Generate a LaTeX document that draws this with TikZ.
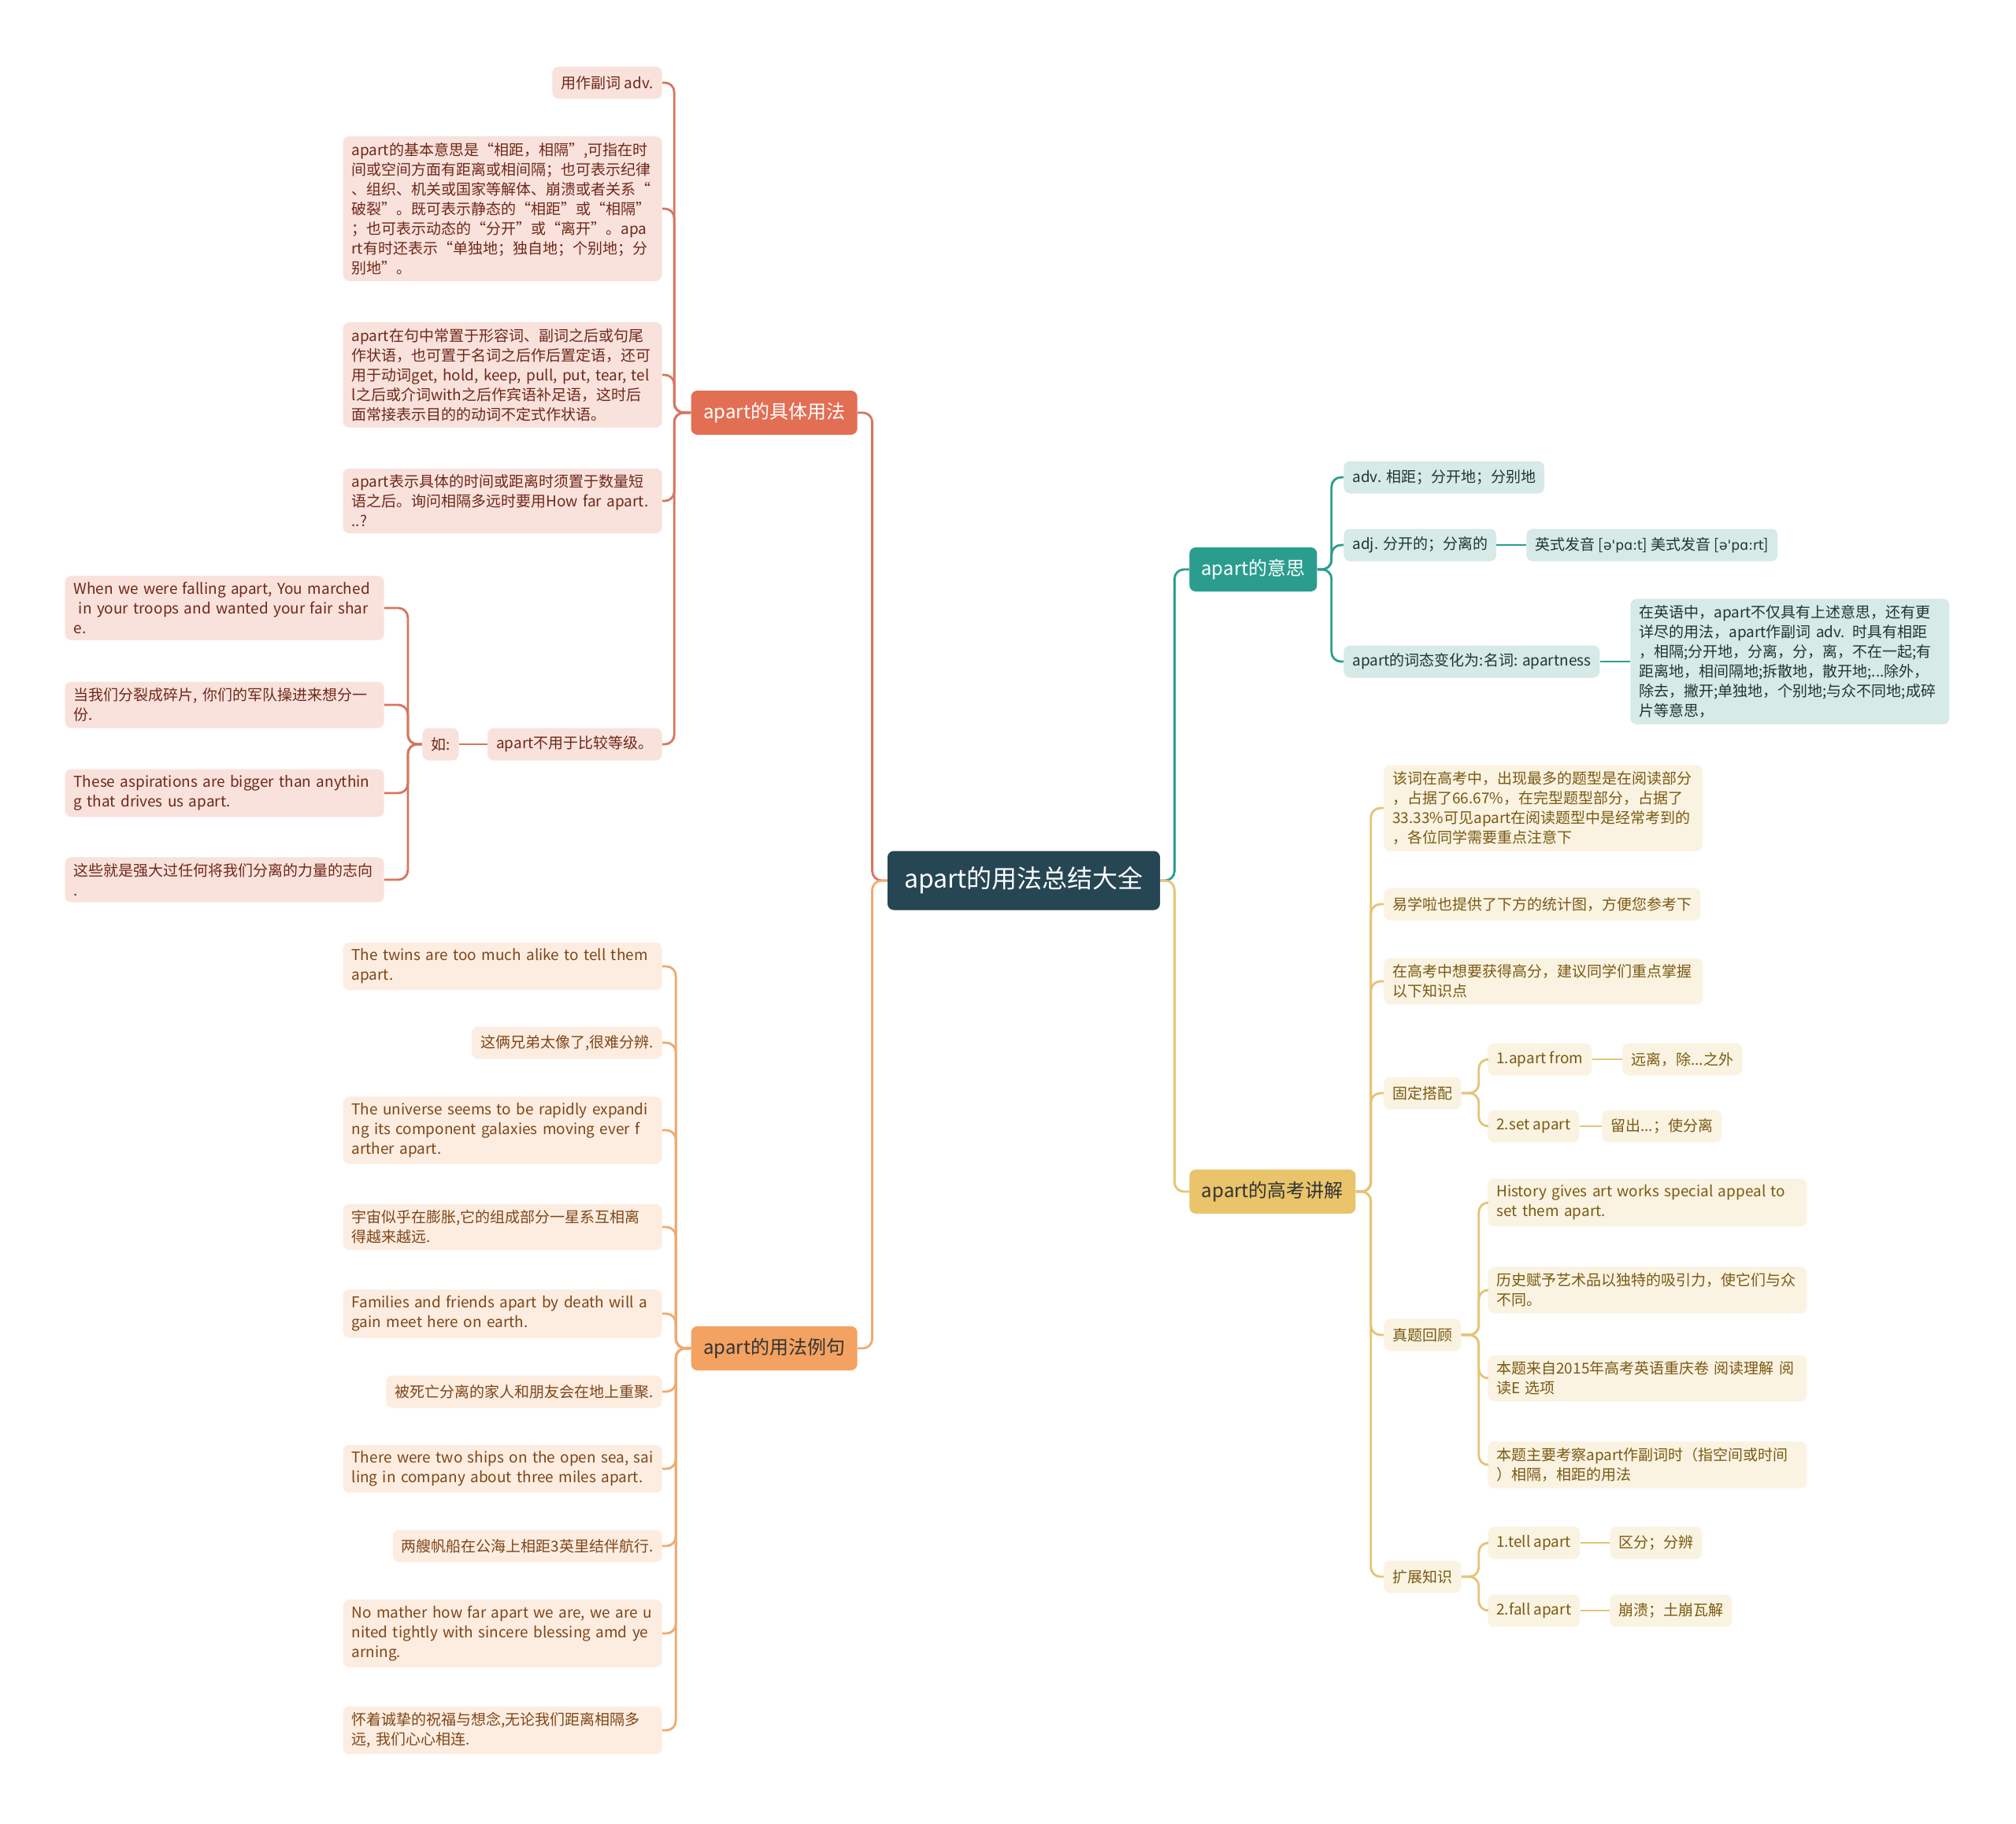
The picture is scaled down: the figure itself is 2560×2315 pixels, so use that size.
\documentclass[tikz,border=0pt]{standalone}
\usepackage{fontspec}
\setmainfont{Noto Sans CJK SC}
\newfontfamily\ipafont{DejaVu Sans}
\usepackage{xcolor}
\usepackage{tikz}
\usetikzlibrary{positioning}
\definecolor{rootc}{RGB}{38,70,83}
\definecolor{coralc}{RGB}{226,110,84}
\definecolor{coralln}{RGB}{214,118,94}
\definecolor{corallt}{RGB}{249,226,220}
\definecolor{coraltx}{RGB}{110,40,25}
\definecolor{orngc}{RGB}{244,162,97}
\definecolor{orngln}{RGB}{240,170,110}
\definecolor{ornglt}{RGB}{253,237,224}
\definecolor{orngtx}{RGB}{125,70,25}
\definecolor{tealc}{RGB}{42,157,143}
\definecolor{teallt}{RGB}{214,234,231}
\definecolor{tealtx}{RGB}{30,55,50}
\definecolor{yellc}{RGB}{233,196,106}
\definecolor{yellln}{RGB}{228,196,118}
\definecolor{yelllt}{RGB}{251,243,225}
\definecolor{yelltx}{RGB}{120,90,20}
\newcommand{\ipa}[1]{{\ipafont\fontsize{8.6}{12.5}\selectfont #1}}

\tikzset{
  base/.style={rounded corners=4pt, inner xsep=5.5pt, inner ysep=4pt,
    minimum height=20.5pt, font=\fontsize{9.5}{12.5}\selectfont},
  para/.style={text width=191.5pt, align=left},
  rootbox/.style={fill=rootc, text=white, rounded corners=4pt,
    minimum width=173pt, minimum height=37.5pt, font=\fontsize{16}{20}\selectfont},
  branchbox/.style={rounded corners=4pt, inner xsep=6pt, minimum height=28pt,
    font=\fontsize{12}{15}\selectfont},
  pinkbox/.style={base, fill=corallt, text=coraltx},
  peachbox/.style={base, fill=ornglt, text=orngtx},
  mintbox/.style={base, fill=teallt, text=tealtx},
  creambox/.style={base, fill=yelllt, text=yelltx},
  coralwire/.style={draw=coralln, line width=1.4pt, rounded corners=6pt},
  orngwire/.style={draw=orngln, line width=1.4pt, rounded corners=6pt},
  tealwire/.style={draw=tealc, line width=1.4pt, rounded corners=6pt},
  yellwire/.style={draw=yellln, line width=1.4pt, rounded corners=6pt}
}

\begin{document}
\begin{tikzpicture}[x=0.5pt, y=-0.5pt]
\fill[white] (0,0) rectangle (2560,2315);
\useasboundingbox (0,0) rectangle (2560,2315);

% root and main branches
\node[rootbox] (root) at (1300,1118) {apart的用法总结大全};
\node[branchbox, fill=coralc, text=white, anchor=east, minimum width=105.5pt] (jt) at (1089,524) {apart的具体用法};
\node[branchbox, fill=orngc, text=black!80, anchor=east, minimum width=105.5pt] (lj) at (1089,1712) {apart的用法例句};
\node[branchbox, fill=tealc, text=white, anchor=west, minimum width=81pt] (ys) at (1510,723) {apart的意思};
\node[branchbox, fill=yellc, text=black!80, anchor=west, minimum width=105.5pt] (gk) at (1510,1513) {apart的高考讲解};

% apart的具体用法
\node[pinkbox, anchor=east] (u1) at (841,105) {用作副词 adv.};
\node[pinkbox, para, anchor=east] (u2) at (841,265) {apart的基本意思是“相距，相隔”,可指在时\\间或空间方面有距离或相间隔；也可表示纪律\\、组织、机关或国家等解体、崩溃或者关系“\\破裂”。既可表示静态的“相距”或“相隔”\\；也可表示动态的“分开”或“离开”。apa\\rt有时还表示“单独地；独自地；个别地；分\\别地”。};
\node[pinkbox, para, anchor=east] (u3) at (841,476) {apart在句中常置于形容词、副词之后或句尾\\作状语，也可置于名词之后作后置定语，还可\\用于动词get, hold, keep, pull, put, tear, tel\\l之后或介词with之后作宾语补足语，这时后\\面常接表示目的的动词不定式作状语。};
\node[pinkbox, para, anchor=east] (u4) at (841,636) {apart表示具体的时间或距离时须置于数量短\\语之后。询问相隔多远时要用How far apart.\\..?};
\node[pinkbox, anchor=east] (u5) at (841,945) {apart不用于比较等级。};
\node[pinkbox, anchor=east] (ru) at (583,945) {如:};
\node[pinkbox, para, anchor=east] (e1) at (488,772) {When we were falling apart, You marched\\\ in your troops and wanted your fair shar\\e.};
\node[pinkbox, para, anchor=east] (e2) at (488,895) {当我们分裂成碎片, 你们的军队操进来想分一\\份.};
\node[pinkbox, para, anchor=east] (e3) at (488,1007) {These aspirations are bigger than anythin\\g that drives us apart.};
\node[pinkbox, para, anchor=east] (e4) at (488,1117) {这些就是强大过任何将我们分离的力量的志向\\.};

% apart的用法例句
\node[peachbox, para, anchor=east] (s1) at (841,1227) {The twins are too much alike to tell them\\apart.};
\node[peachbox, anchor=east] (s2) at (841,1324) {这俩兄弟太像了,很难分辨.};
\node[peachbox, para, anchor=east] (s3) at (841,1435) {The universe seems to be rapidly expandi\\ng its component galaxies moving ever f\\arther apart.};
\node[peachbox, para, anchor=east] (s4) at (841,1558) {宇宙似乎在膨胀,它的组成部分一星系互相离\\得越来越远.};
\node[peachbox, para, anchor=east] (s5) at (841,1668) {Families and friends apart by death will a\\gain meet here on earth.};
\node[peachbox, anchor=east] (s6) at (841,1767) {被死亡分离的家人和朋友会在地上重聚.};
\node[peachbox, para, anchor=east] (s7) at (841,1865) {There were two ships on the open sea, sai\\ling in company about three miles apart.};
\node[peachbox, anchor=east] (s8) at (841,1963) {两艘帆船在公海上相距3英里结伴航行.};
\node[peachbox, para, anchor=east] (s9) at (841,2074) {No mather how far apart we are, we are u\\nited tightly with sincere blessing amd ye\\arning.};
\node[peachbox, para, anchor=east] (s10) at (841,2197) {怀着诚挚的祝福与想念,无论我们距离相隔多\\远, 我们心心相连.};

% apart的意思
\node[mintbox, anchor=west] (m1) at (1706,606) {adv. 相距；分开地；分别地};
\node[mintbox, anchor=west] (m2) at (1706,692) {adj. 分开的；分离的};
\node[mintbox, anchor=west] (m2b) at (1938,692) {英式发音 [\ipa{ə\char"27 pɑ:t}] 美式发音 [\ipa{ə\char"27 pɑ:rt}]};
\node[mintbox, anchor=west] (m3) at (1706,840) {apart的词态变化为:名词: apartness};
\node[mintbox, para, anchor=west] (m3b) at (2070,840) {在英语中，apart不仅具有上述意思，还有更\\详尽的用法，apart作副词 adv. 时具有相距\\，相隔;分开地，分离，分，离，不在一起;有\\距离地，相间隔地;拆散地，散开地;...除外，\\除去，撇开;单独地，个别地;与众不同地;成碎\\片等意思，};

% apart的高考讲解
\node[creambox, para, anchor=west] (g1) at (1757,1026) {该词在高考中，出现最多的题型是在阅读部分\\，占据了66.67\%，在完型题型部分，占据了\\33.33\%可见apart在阅读题型中是经常考到的\\，各位同学需要重点注意下};
\node[creambox, anchor=west] (g2) at (1757,1148) {易学啦也提供了下方的统计图，方便您参考下};
\node[creambox, para, anchor=west] (g3) at (1757,1246) {在高考中想要获得高分，建议同学们重点掌握\\以下知识点};
\node[creambox, anchor=west] (g4) at (1757,1388) {固定搭配};
\node[creambox, anchor=west] (g5) at (1757,1695) {真题回顾};
\node[creambox, anchor=west] (g6) at (1757,2002) {扩展知识};
\node[creambox, anchor=west] (f1) at (1889,1345) {1.apart from};
\node[creambox, anchor=west] (f1b) at (2060,1345) {远离，除...之外};
\node[creambox, anchor=west] (f2) at (1889,1430) {2.set apart};
\node[creambox, anchor=west] (f2b) at (2034,1430) {留出...；使分离};
\node[creambox, para, anchor=west] (z1) at (1889,1527) {History gives art works special appeal to\\set them apart.};
\node[creambox, para, anchor=west] (z2) at (1889,1638) {历史赋予艺术品以独特的吸引力，使它们与众\\不同。};
\node[creambox, para, anchor=west] (z3) at (1889,1750) {本题来自2015年高考英语重庆卷 阅读理解 阅\\读E 选项};
\node[creambox, para, anchor=west] (z4) at (1889,1860) {本题主要考察apart作副词时（指空间或时间\\）相隔，相距的用法};
\node[creambox, anchor=west] (k1) at (1889,1959) {1.tell apart};
\node[creambox, anchor=west] (k1b) at (2044,1959) {区分；分辨};
\node[creambox, anchor=west] (k2) at (1889,2045) {2.fall apart};
\node[creambox, anchor=west] (k2b) at (2044,2045) {崩溃；土崩瓦解};

% connectors
\draw[coralwire] (root.west) -- ++(-19,0) |- (jt.east);
\draw[orngwire] (root.west) -- ++(-19,0) |- (lj.east);
\draw[tealwire] (root.east) -- ++(18,0) |- (ys.west);
\draw[yellwire] (root.east) -- ++(18,0) |- (gk.west);
\foreach \c in {u1,u2,u3,u4,u5}
  \draw[coralwire] (jt.west) -- ++(-21,0) |- (\c.east);
\draw[coralwire] (u5.west) -- (ru.east);
\foreach \c in {e1,e2,e3,e4}
  \draw[coralwire] (ru.west) -- ++(-18,0) |- (\c.east);
\foreach \c in {s1,s2,s3,s4,s5,s6,s7,s8,s9,s10}
  \draw[orngwire] (lj.west) -- ++(-19,0) |- (\c.east);
\foreach \c in {m1,m2,m3}
  \draw[tealwire] (ys.east) -- ++(18,0) |- (\c.west);
\draw[tealwire] (m2.east) -- (m2b.west);
\draw[tealwire] (m3.east) -- (m3b.west);
\foreach \c in {g1,g2,g3,g4,g5,g6}
  \draw[yellwire] (gk.east) -- ++(19,0) |- (\c.west);
\foreach \c in {f1,f2}
  \draw[yellwire] (g4.east) -- ++(22,0) |- (\c.west);
\foreach \c in {z1,z2,z3,z4}
  \draw[yellwire] (g5.east) -- ++(22,0) |- (\c.west);
\foreach \c in {k1,k2}
  \draw[yellwire] (g6.east) -- ++(22,0) |- (\c.west);
\draw[yellwire] (f1.east) -- (f1b.west);
\draw[yellwire] (f2.east) -- (f2b.west);
\draw[yellwire] (k1.east) -- (k1b.west);
\draw[yellwire] (k2.east) -- (k2b.west);
\end{tikzpicture}
\end{document}
